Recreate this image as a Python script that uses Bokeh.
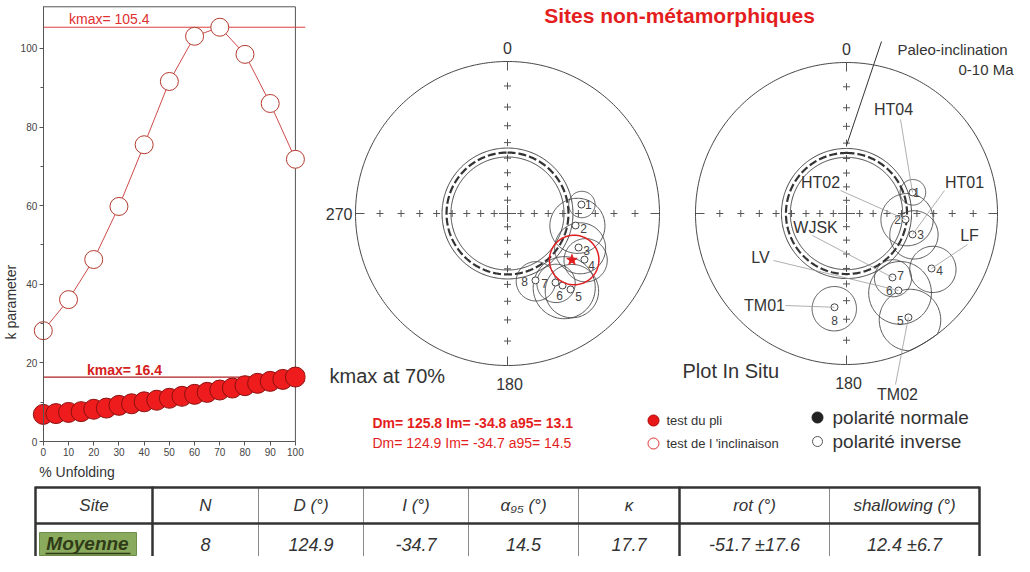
import numpy as np
from bokeh.plotting import figure
from bokeh.layouts import column, row
from bokeh.models import Range1d, Title, FixedTicker
from bokeh.core.properties import value
from bokeh.embed import file_html
from bokeh.resources import INLINE

# ---------------- data ----------------
unfold_incl = [0, 10, 20, 30, 40, 50, 60, 70, 80, 90, 100]
k_incl = [28.2, 36.1, 46.3, 59.8, 75.5, 91.6, 103.1, 105.4, 98.5, 86.0, 71.8]
unfold_fold = [0, 5, 10, 15, 20, 25, 30, 35, 40, 45, 50, 55, 60, 65, 70, 75, 80, 85, 90, 95, 100]
k_fold = [6.9, 7.1, 7.4, 7.6, 8.2, 8.5, 9.2, 9.6, 10.1, 10.5, 11.0, 11.5, 12.0, 12.5,
          13.1, 13.6, 14.2, 14.8, 15.3, 15.8, 16.4]

site_num = ["1", "2", "3", "4", "5", "6", "7", "8"]
site_name = ["HT04", "HT02", "HT01", "LF", "TM02", "LV", "WJSK", "TM01"]
tc_dec = [83.1, 100.0, 115.6, 120.9, 140.3, 142.6, 145.2, 157.3]     # 70 % unfolding
tc_inc = [-37.8, -41.1, -35.2, -28.9, -24.0, -28.4, -32.1, -39.0]
is_dec = [72.3, 95.8, 107.6, 122.9, 149.2, 146.0, 144.3, 187.3]      # in situ
is_inc = [-40.7, -47.1, -40.7, -22.3, -12.6, -26.8, -34.9, -25.9]
site_a95 = [8, 17, 15, 12, 14, 17, 11, 12]

fold_dec, fold_inc, fold_a95 = 125.8, -34.8, 13.1
incl_dec, incl_inc, incl_a95 = 124.9, -34.7, 14.5
paleo_inc, paleo_err = 46.3, 2.9
grid_inc = [10, 20, 30, 40, 50, 60, 70, 80]
grid_az = [0, 90, 180, 270]

tbl_header = ["Site", "N", "D (°)", "I (°)", "α₉₅ (°)", "κ", "rot (°)", "shallowing (°)"]
tbl_row = ["Moyenne", "8", "124.9", "-34.7", "14.5", "17.7", "-51.7 ±17.6", "12.4 ±6.7"]

FONT = "Liberation Sans"
RED = "#e41e1e"
TXT = "#333333"

# ---------------- k parameter plot ----------------
kp = figure(width=317, height=482, x_range=Range1d(-9.84, 104), y_range=Range1d(-10.43, 112.2),
            output_backend="svg", toolbar_location=None,
            min_border_left=16, min_border_right=12, min_border_top=0, min_border_bottom=0)
kp.outline_line_color = None
kp.grid.visible = False
kp.background_fill_color = "white"
kp.xaxis.ticker = FixedTicker(ticks=unfold_incl)
kp.xaxis.bounds = (0, 100)
kp.xaxis.fixed_location = 0
kp.yaxis.ticker = FixedTicker(ticks=[0, 20, 40, 60, 80, 100], minor_ticks=[10, 30, 50, 70, 90])
kp.yaxis.fixed_location = 0
kp.yaxis.bounds = (0, 110.6)
for ax in kp.axis:
    ax.axis_line_color = "#555555"
    ax.major_tick_line_color = "#555555"
    ax.minor_tick_line_color = "#555555"
    ax.major_tick_out = 4
    ax.major_tick_in = 0
    ax.minor_tick_out = 3
    ax.minor_tick_in = 0
    ax.major_label_standoff = 2
    ax.major_label_text_font = FONT
    ax.major_label_text_font_size = "10px"
    ax.major_label_text_color = "#444444"
kp.xaxis.minor_tick_line_color = None

kp.segment(x0=[0], x1=[100], y0=[110.6], y1=[110.6], line_color="#555555", line_width=1)
kp.segment(x0=[100], x1=[100], y0=[0], y1=[110.6], line_color="#555555", line_width=1)

kp.segment(x0=[0], x1=[104], y0=[max(k_incl)], y1=[max(k_incl)], line_color="#e04040", line_width=1)
kp.segment(x0=[0], x1=[100], y0=[max(k_fold)], y1=[max(k_fold)], line_color="#b02020", line_width=1.3)

kp.line(unfold_incl, k_incl, line_color="#d04a4a", line_width=1)
kp.scatter(unfold_incl, k_incl, size=18, fill_color="white", line_color="#b33a2e", line_width=1)
kp.line(unfold_fold, k_fold, line_color="#8a1010", line_width=1)
kp.scatter(unfold_fold, k_fold, size=20, fill_color="#ee1c1c", line_color="#8a1010", line_width=1)

kp.text(x=[10.2], y=[107.6], text=[f"kmax=  {max(k_incl)}"], text_font=value(FONT),
        text_font_size="14px", text_color="#e03030", text_baseline="middle")
kp.text(x=[17.3], y=[18.1], text=[f"kmax=  {max(k_fold)}"], text_font=value(FONT),
        text_font_size="14px", text_font_style="bold", text_color="#d42020", text_baseline="middle")
kp.text(x=[-1.6], y=[-7.7], text=["% Unfolding"], text_font=value(FONT),
        text_font_size="14px", text_color=TXT, text_baseline="middle")

kp.add_layout(Title(text="k parameter", align="left", offset=143, standoff=0, text_font=FONT,
                    text_font_size="14px", text_font_style="normal", text_color=TXT), "left")

# ---------------- stereonets ----------------
sp = figure(width=697, height=482, x_range=Range1d(325, 1022), y_range=Range1d(490, 8),
            output_backend="svg", toolbar_location=None, min_border=0,
            x_axis_type=None, y_axis_type=None)
sp.outline_line_color = None
sp.grid.visible = False


def wulff(cx, cy, R, dec, inc):
    dec = np.radians(np.asarray(dec, float))
    inc = np.asarray(inc, float)
    r = R * np.tan(np.radians(90 - np.abs(inc)) / 2)
    return cx + r * np.sin(dec), cy - r * np.cos(dec)


def cone(cx, cy, R, dec, inc, a, n=140):
    d, i, aa = np.radians([dec, inc, a])
    v = np.array([np.cos(i) * np.cos(d), np.cos(i) * np.sin(d), np.sin(i)])
    k = np.array([0, 0, 1.0]) if abs(v[2]) < 0.9 else np.array([1.0, 0, 0])
    u1 = np.cross(v, k)
    u1 /= np.linalg.norm(u1)
    u2 = np.cross(v, u1)
    t = np.linspace(0, 2 * np.pi, n)
    pts = v * np.cos(aa) + (np.outer(np.cos(t), u1) + np.outer(np.sin(t), u2)) * np.sin(aa)
    ip = np.degrees(np.arcsin(np.clip(pts[:, 2], -1, 1)))
    dp = np.arctan2(pts[:, 1], pts[:, 0])
    sgn = 1 if inc < 0 else -1
    r = np.minimum(R * np.tan(np.radians(90 + sgn * ip) / 2), R)
    return list(cx + r * np.sin(dp)), list(cy - r * np.cos(dp))


def net(cx, cy, R, decs, incs, label_dx, label_dy, show270):
    t = np.linspace(0, 2 * np.pi, 400)
    sp.line(cx + R * np.sin(t), cy - R * np.cos(t), line_color="#444444", line_width=1)
    az = np.radians(grid_az)
    sp.segment(x0=cx + R * np.sin(az), y0=cy - R * np.cos(az),
               x1=cx + (R - 9) * np.sin(az), y1=cy - (R - 9) * np.cos(az),
               line_color="#555555", line_width=1)
    gx, gy = [], []
    for a in grid_az:
        x, y = wulff(cx, cy, R, [a] * len(grid_inc), grid_inc)
        gx += list(x)
        gy += list(y)
    sp.scatter(gx, gy, marker="cross", size=7, line_color="#555555", line_width=1)
    sp.scatter([cx], [cy], marker="cross", size=17, line_color="#555555", line_width=1)
    # paleo-inclination circle
    dd = np.linspace(0, 360, 361)
    for inc_c, lw, dash in [(paleo_inc - paleo_err, 0.9, "solid"), (paleo_inc + paleo_err, 0.9, "solid"),
                            (paleo_inc, 2.2, "8 3")]:
        x, y = wulff(cx, cy, R, dd, [inc_c] * len(dd))
        sp.line(x, y, line_color="#333333", line_width=lw, line_dash=dash)
    # alpha95 cones
    xs, ys = [], []
    for d, i, a in zip(decs, incs, site_a95):
        x, y = cone(cx, cy, R, d, i, a)
        xs.append(x)
        ys.append(y)
    sp.multi_line(xs, ys, line_color="#444444", line_width=0.9)
    px, py = wulff(cx, cy, R, decs, incs)
    sp.scatter(px, py, size=7, fill_color="white", line_color="#444444", line_width=1)
    sp.text(x=px + np.array(label_dx), y=py + np.array(label_dy), text=site_num, text_font=value(FONT),
            text_font_size="12px", text_color="#444444", text_align="center", text_baseline="middle")
    sp.text(x=[cx], y=[cy - R - 14], text=["0"], text_font=value(FONT), text_font_size="16px",
            text_color=TXT, text_align="center", text_baseline="middle")
    sp.text(x=[cx + 2], y=[cy + R + 18], text=["180"], text_font=value(FONT), text_font_size="16px",
            text_color=TXT, text_align="center", text_baseline="middle")
    if show270:
        sp.text(x=[cx - R - 3], y=[cy], text=["270"], text_font=value(FONT), text_font_size="16px",
                text_color=TXT, text_align="right", text_baseline="middle")
    return px, py


C1 = (515, 221, 152)
C2 = (854, 221, 151)
net(*C1, tc_dec, tc_inc, [7, 8, 8, 7, 8, -3, -11, -11], [0, 3, 3, 6, 7, 10, 1, 1], True)
# mean direction (fold test / inclination test)
mx, my = cone(*C1, incl_dec, incl_inc, incl_a95)
sp.line(mx, my, line_color="#e02020", line_width=1.5)
sx, sy = wulff(*C1, [fold_dec], [fold_inc])
sp.scatter(sx, sy, marker="star", size=11, fill_color=RED, line_color=RED)

px2, py2 = net(*C2, is_dec, is_inc, [4, -8, 8, 8, -8, -9, 8, 0], [0, 0, 0, 2, 3, 0, -2, 13], False)

# site name labels + leaders (plot in situ)
name_pos = [(901, 117), (828, 190), (972, 190), (977, 243), (905, 402), (768, 265), (823, 235), (772, 313)]
lead_start = [(908, 127), (848, 198), (952, 198), (975, 252), (903, 392), (781, 268), (820, 243), (793, 313)]
sp.segment(x0=[s[0] for s in lead_start], y0=[s[1] for s in lead_start], x1=px2, y1=py2,
           line_color="#9a9a9a", line_width=0.8)
sp.text(x=[p[0] for p in name_pos], y=[p[1] for p in name_pos], text=site_name, text_font=value(FONT),
        text_font_size="16px", text_color=TXT, text_align="center", text_baseline="middle")

# paleo-inclination pointer
ptx, pty = wulff(*C2, [0], [paleo_inc - paleo_err])
sp.segment(x0=ptx, y0=pty - 3, x1=[889], y1=[49], line_color="#333333", line_width=1)
sp.text(x=[905], y=[57], text=["Paleo-inclination"], text_font=value(FONT), text_font_size="15px",
        text_color=TXT, text_baseline="middle")
sp.text(x=[1021], y=[77], text=["0-10 Ma"], text_font=value(FONT), text_font_size="15px",
        text_color=TXT, text_align="right", text_baseline="middle")

# titles / captions
sp.text(x=[687], y=[23], text=["Sites non-métamorphiques"], text_font=value(FONT), text_font_size="21px",
        text_font_style="bold", text_color=RED, text_align="center", text_baseline="middle")
kmax_at = unfold_incl[int(np.argmax(k_incl))]
sp.text(x=[337], y=[383], text=[f"kmax at  {kmax_at}%"], text_font=value(FONT), text_font_size="20px",
        text_color=TXT, text_baseline="middle")
sp.text(x=[690], y=[378], text=["Plot In Situ"], text_font=value(FONT), text_font_size="20px",
        text_color=TXT, text_baseline="middle")

# stats and legends
sp.text(x=[380], y=[430], text=[f"Dm= {fold_dec} Im=  {fold_inc} a95=  {fold_a95}"], text_font=value(FONT),
        text_font_size="14px", text_font_style="bold", text_color=RED, text_baseline="middle")
sp.text(x=[380], y=[450], text=[f"Dm= {incl_dec} Im=  {incl_inc} a95=  {incl_a95}"], text_font=value(FONT),
        text_font_size="14px", text_color=RED, text_baseline="middle")
sp.scatter([661], [428], size=11, fill_color="#e81818", line_color="#b00000")
sp.scatter([661], [451], size=11, fill_color="white", line_color="#e03030", line_width=1)
sp.text(x=[674, 674], y=[428, 451], text=["test du pli", "test de l 'inclinaison"], text_font=value(FONT),
        text_font_size="13px", text_color=TXT, text_baseline="middle")
sp.scatter([825], [425], size=11, fill_color="#222222", line_color="#222222")
sp.scatter([825], [449], size=10, fill_color="white", line_color="#555555", line_width=1)
sp.text(x=[840, 840], y=[425, 449], text=["polarité normale", "polarité inverse"], text_font=value(FONT),
        text_font_size="19px", text_color=TXT, text_baseline="middle")

# ---------------- table ----------------
tp = figure(width=1014, height=74, x_range=Range1d(8, 1022), y_range=Range1d(564, 490),
            output_backend="svg", toolbar_location=None, min_border=0,
            x_axis_type=None, y_axis_type=None)
tp.outline_line_color = None
tp.grid.visible = False
col_x = [43, 160, 266, 371, 476, 586, 687, 837, 987]
thick = [0, 1, 6, 8]
thin_x = [x for j, x in enumerate(col_x) if j not in thick]
thick_x = [col_x[j] for j in thick]
tp.segment(x0=thin_x, x1=thin_x, y0=[495] * len(thin_x), y1=[575] * len(thin_x),
           line_color="#8a8a8a", line_width=1)
tp.quad(left=[47], right=[144], top=[540], bottom=[563], fill_color="#8aaa5e", line_color="#6f8c48")
tp.segment(x0=thick_x, x1=thick_x, y0=[494] * len(thick_x), y1=[575] * len(thick_x),
           line_color="#333333", line_width=2.5)
tp.segment(x0=[43, 43], x1=[987, 987], y0=[495, 531], y1=[495, 531], line_color="#333333", line_width=2.5)
cx_cells = [(a + b) / 2 for a, b in zip(col_x[:-1], col_x[1:])]
tp.text(x=cx_cells, y=[513] * len(cx_cells), text=tbl_header, text_font=value(FONT), text_font_size="17px",
        text_font_style="italic", text_color=TXT, text_align="center", text_baseline="middle")
tp.text(x=cx_cells[1:], y=[552] * (len(cx_cells) - 1), text=tbl_row[1:], text_font=value(FONT),
        text_font_size="18px", text_font_style="italic", text_color=TXT, text_align="center",
        text_baseline="middle")
tp.text(x=[95], y=[551], text=tbl_row[:1], text_font=value(FONT), text_font_size="19px",
        text_font_style="bold italic", text_color="#2f3b17", text_align="center", text_baseline="middle")
tp.segment(x0=[53], x1=[138], y0=[561], y1=[561], line_color="#2f3b17", line_width=1.3)

layout = column(row(kp, sp, spacing=0), tp, spacing=0)
open("out.html", "w").write(file_html(layout, INLINE))
